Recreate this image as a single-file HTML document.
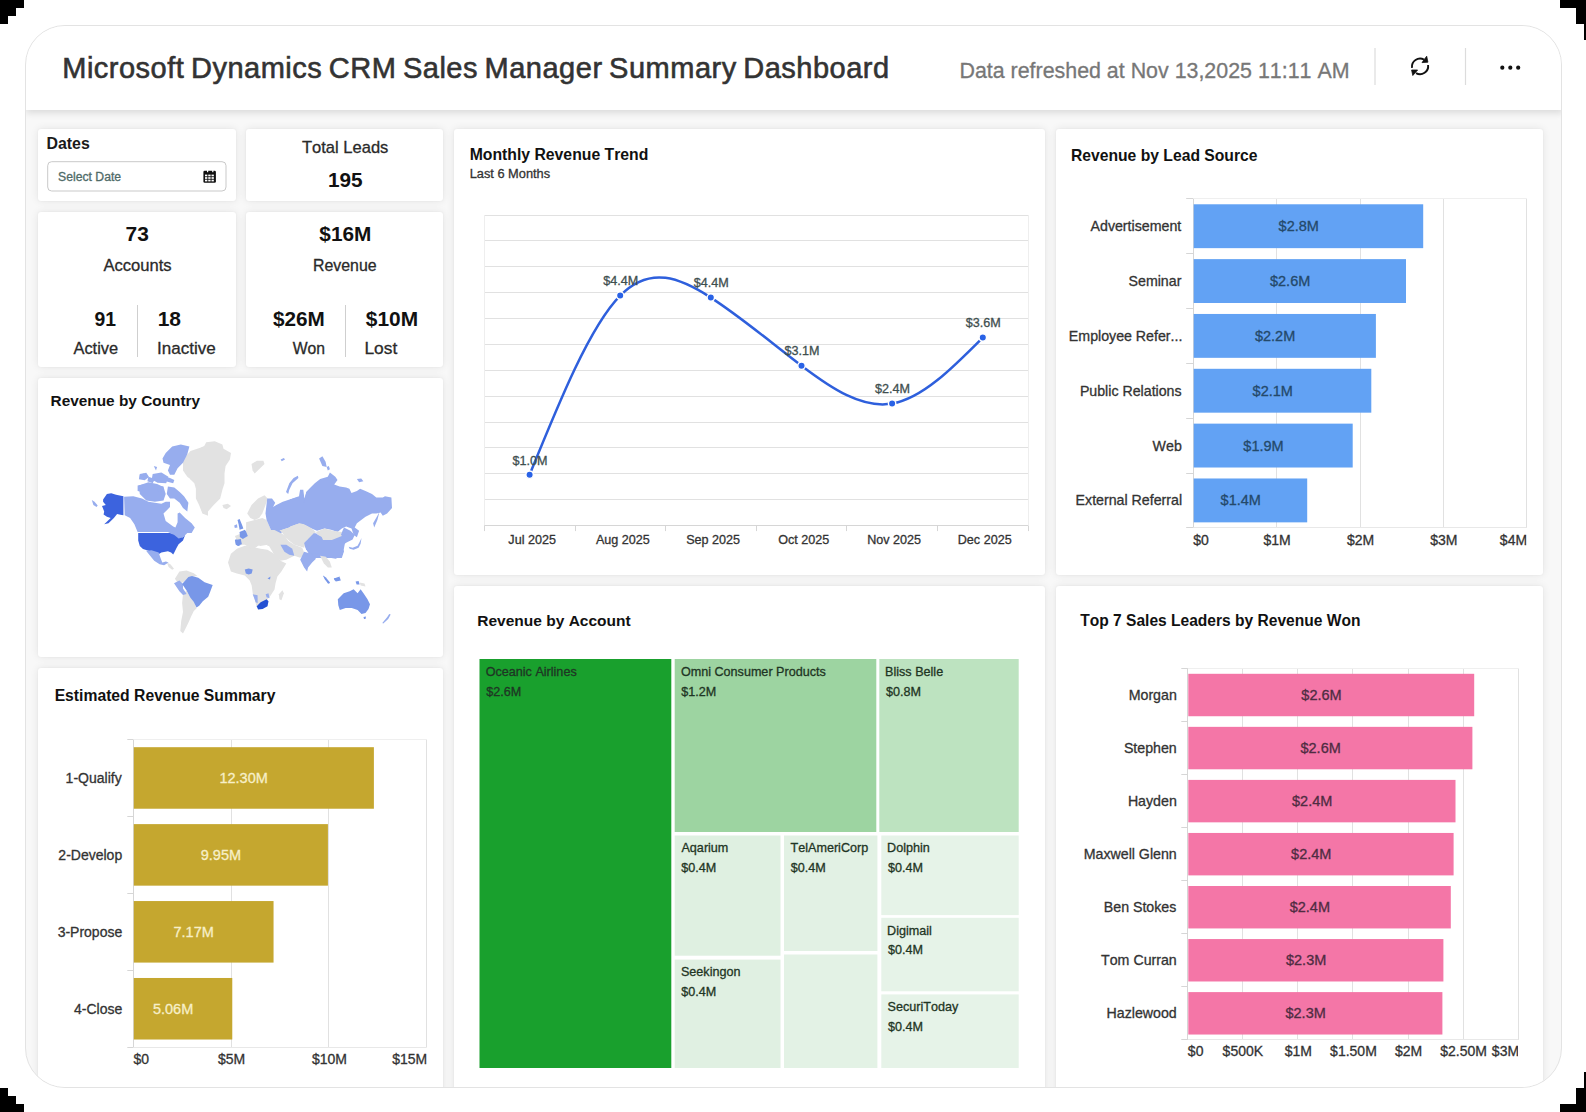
<!DOCTYPE html>
<html><head><meta charset="utf-8">
<style>
*{margin:0;padding:0;box-sizing:border-box}
html,body{width:1586px;height:1112px;overflow:hidden;background:#fff;font-family:"Liberation Sans",sans-serif}
.c{position:absolute;background:#000}
#wrap{position:absolute;left:25px;top:25px;width:1537px;height:1063px;border:1px solid #e3e3e3;border-radius:40px;overflow:hidden;background:#f8f8f8}
#hdr{position:absolute;left:0;top:0;width:1537px;height:84px;background:#fff;box-shadow:0 3px 7px rgba(0,0,0,0.12);z-index:2}
.card{position:absolute;background:#fff;border-radius:3px;box-shadow:0 0 9px rgba(0,0,0,0.085),0 0 2px rgba(0,0,0,0.05)}
svg{position:absolute;left:0;top:0;z-index:5;font-kerning:none}
</style></head><body>
<div class="c" style="left:0;top:0;width:24px;height:8px"></div>
<div class="c" style="left:0;top:8px;width:16px;height:8px"></div>
<div class="c" style="left:0;top:16px;width:8px;height:8px"></div>
<div class="c" style="left:1560px;top:0;width:26px;height:8px"></div>
<div class="c" style="left:1576px;top:8px;width:10px;height:16px"></div>
<div class="c" style="left:1584px;top:24px;width:2px;height:16px"></div>
<div class="c" style="left:0;top:1088px;width:8px;height:8px"></div>
<div class="c" style="left:0;top:1096px;width:16px;height:8px"></div>
<div class="c" style="left:0;top:1104px;width:24px;height:8px"></div>
<div class="c" style="left:1584px;top:1072px;width:2px;height:16px"></div>
<div class="c" style="left:1576px;top:1088px;width:10px;height:16px"></div>
<div class="c" style="left:1560px;top:1104px;width:26px;height:8px"></div>
<div id="wrap">
 <div id="hdr"></div>
 <div class="card" style="left:12px;top:103px;width:198px;height:72px"></div>
 <div class="card" style="left:220px;top:103px;width:197px;height:72px"></div>
 <div class="card" style="left:12px;top:186px;width:198px;height:155px"></div>
 <div class="card" style="left:220px;top:186px;width:197px;height:155px"></div>
 <div class="card" style="left:12px;top:352px;width:405px;height:279px"></div>
 <div class="card" style="left:12px;top:642px;width:405px;height:460px"></div>
 <div class="card" style="left:427.5px;top:103px;width:591.5px;height:446px"></div>
 <div class="card" style="left:1030px;top:103px;width:487px;height:446px"></div>
 <div class="card" style="left:427.5px;top:559.5px;width:591.5px;height:560px"></div>
 <div class="card" style="left:1030px;top:559.5px;width:487px;height:560px"></div>
</div>
<svg width="1586" height="1112" viewBox="0 0 1586 1112" font-family="Liberation Sans, sans-serif">
<defs>
<clipPath id="clipLS"><rect x="1000" y="520" width="526.5" height="40"/></clipPath>
<clipPath id="clipER"><rect x="0" y="1040" width="426.8" height="40"/></clipPath>
<clipPath id="clipT7"><rect x="1000" y="1040" width="518" height="40"/></clipPath>
</defs>
<polygon points="183.0,459.6 190.5,450.9 200.2,447.7 208.0,444.5 208.0,515.7 202.4,513.5 199.1,504.9 195.9,498.4 195.9,483.3 187.3,476.8 183.0,470.4" fill="#e2e2e2"/>
<polygon points="91.8,500.0 94.5,501.7 97.7,505.4 96.6,507.1 93.4,504.9" fill="#97adee"/>
<polygon points="124.1,496.8 133.3,496.3 142.0,498.4 148.4,501.7 154.9,502.7 161.4,503.8 165.7,501.7 170.0,501.7 170.0,507.1 163.5,513.5 165.7,521.1 173.2,526.5 175.4,527.6 177.6,522.2 177.6,513.5 179.7,512.5 185.1,517.9 191.6,523.2 194.8,527.6 191.6,533.0 187.3,533.0 184.0,536.2 180.8,538.4 174.3,540.5 172.2,534.0 167.9,531.9 137.6,531.9 134.4,524.3 130.1,517.9 124.7,515.2" fill="#97adee"/>
<polygon points="167.9,486.6 174.3,487.6 179.7,492.0 184.0,496.3 188.4,502.7 187.3,511.4 183.0,508.1 179.7,502.7 174.3,498.4 170.0,498.4 166.8,494.1" fill="#97adee"/>
<polygon points="165.7,453.1 172.2,446.6 180.8,444.5 189.4,446.6 187.3,454.2 183.0,462.8 177.6,468.2 174.3,474.7 170.0,474.7 167.9,470.4 170.0,465.0 163.5,462.8 162.5,458.5" fill="#97adee"/>
<polygon points="162.5,475.8 170.0,477.9 174.3,480.1 173.2,483.3 165.7,481.2 161.4,479.0" fill="#97adee"/>
<polygon points="138.7,485.5 148.4,482.2 157.1,483.9 163.5,487.1 165.7,494.1 163.5,500.6 154.9,501.7 146.3,500.6 139.8,494.1" fill="#97adee"/>
<polygon points="152.7,474.1 161.4,472.5 168.4,476.8 166.2,483.3 157.6,482.8 151.7,479.5" fill="#97adee"/>
<polygon points="139.8,474.1 146.3,472.7 149.0,477.1 144.7,480.3 138.9,479.2" fill="#97adee"/>
<polygon points="137.6,485.5 143.0,484.4 142.0,492.0 137.6,490.9" fill="#97adee"/>
<polygon points="139.8,474.7 144.1,473.6 143.0,477.9 139.8,477.9" fill="#97adee"/>
<polygon points="148.4,476.8 154.9,479.0 152.7,483.3 147.4,481.2" fill="#97adee"/>
<polygon points="157.1,485.5 163.5,486.6 162.5,492.0 158.1,490.9" fill="#97adee"/>
<polygon points="153.8,466.1 157.1,467.1 156.0,470.4" fill="#97adee"/>
<polygon points="103.1,499.5 106.9,494.1 111.2,493.2 116.1,494.7 123.4,496.3 123.4,515.2 120.4,514.8 117.1,514.1 113.9,517.9 108.5,523.2 104.2,524.3 110.7,517.9 106.9,516.8 103.6,514.6 104.2,511.4 102.0,506.0 105.8,504.9 103.1,501.7" fill="#3c63de"/>
<polygon points="138.2,533.0 170.0,533.0 174.3,535.1 178.6,538.4 183.0,537.3 185.1,535.1 183.0,540.5 178.6,544.3 176.5,548.1 174.3,552.4 173.2,554.5 171.1,552.4 167.9,551.3 161.4,552.4 158.1,554.5 154.9,552.4 148.4,550.8 143.0,549.1 139.8,545.9 138.2,540.5" fill="#3c63de"/>
<polygon points="190.0,452.0 196.5,449.9 204.0,446.6 206.2,442.3 214.8,441.2 222.4,444.5 223.5,448.8 231.0,453.1 229.9,459.6 225.6,466.1 224.5,473.6 224.5,483.3 222.4,489.8 220.2,498.4 213.7,504.9 206.2,513.5 202.9,513.5 199.7,504.9 197.6,494.1 194.3,483.3 190.0,479.0" fill="#e2e2e2"/>
<polygon points="222.4,504.9 227.8,503.8 231.0,506.0 226.7,509.2 223.5,508.1" fill="#e2e2e2"/>
<polygon points="251.5,463.9 256.9,460.7 263.4,460.7 264.5,463.9 259.1,469.3 254.7,473.6 252.6,470.4" fill="#e2e2e2"/>
<polygon points="280.6,459.6 283.9,458.0 285.0,459.6 281.7,461.2" fill="#97adee"/>
<polygon points="286.0,492.0 289.3,483.3 293.6,477.9 297.9,475.8 298.4,477.9 292.5,483.3 289.3,489.8 288.2,494.1" fill="#97adee"/>
<polygon points="247.2,513.5 251.5,504.9 258.0,498.4 264.5,495.2 267.7,498.4 265.5,504.9 262.3,513.5 259.1,517.9 254.7,520.0 250.4,517.9" fill="#e2e2e2"/>
<polygon points="246.1,522.2 254.7,520.0 262.3,517.9 266.6,520.0 270.9,529.7 275.2,537.3 273.1,541.6 267.7,544.8 260.1,545.9 254.7,543.8 248.3,544.8 245.0,537.3 246.1,528.6" fill="#e2e2e2"/>
<polygon points="267.2,498.4 272.0,498.4 275.2,502.7 273.1,507.1 276.3,504.9 282.8,501.7 292.5,498.4 299.0,496.3 300.1,489.8 303.3,489.8 304.4,498.4 306.5,492.0 310.0,488.7 310.0,526.5 297.9,523.2 289.3,527.6 282.8,529.7 280.6,535.1 278.5,539.4 274.2,535.1 270.9,529.7 266.6,520.0 265.5,513.5" fill="#97adee"/>
<polygon points="281.7,529.7 289.3,527.6 297.9,523.2 310.0,526.5 310.0,537.3 303.3,541.6 293.6,541.6 285.0,537.3" fill="#e2e2e2"/>
<polygon points="237.5,520.0 239.6,518.9 241.8,524.3 243.4,528.6 239.6,529.7 238.6,524.3" fill="#7897e8"/>
<polygon points="239.6,531.9 245.0,529.7 247.2,535.1 244.0,540.5 240.7,538.4" fill="#7897e8"/>
<polygon points="235.3,539.4 241.8,538.4 242.9,543.8 238.6,545.9 235.9,544.8" fill="#7897e8"/>
<polygon points="234.2,525.4 236.9,524.3 237.5,527.6 234.8,528.1" fill="#97adee"/>
<polygon points="265.5,541.6 276.3,540.5 278.5,544.8 267.7,545.9" fill="#e2e2e2"/>
<polygon points="290.0,499.5 296.5,497.4 300.8,498.4 304.0,502.7 306.2,492.0 310.5,487.6 314.8,483.3 320.2,479.0 327.8,476.8 329.9,472.5 335.3,476.8 337.5,480.1 334.2,484.4 339.6,486.6 346.1,487.6 349.4,488.7 351.5,493.0 356.9,490.9 360.1,488.7 365.5,490.9 372.0,494.1 376.3,497.4 382.8,497.4 385.0,496.3 391.4,497.4 392.0,508.1 387.1,513.5 382.8,515.7 380.6,512.5 376.3,513.5 372.0,513.5 365.5,516.8 356.9,523.2 354.7,527.6 359.1,530.8 356.9,537.3 353.7,535.1 351.5,528.6 346.1,526.5 341.8,528.6 337.5,531.9 331.0,529.7 324.5,528.6 317.0,530.8 311.6,528.6 304.0,524.3 299.7,523.2 290.0,526.5" fill="#97adee"/>
<polygon points="356.9,479.0 361.2,478.5 363.4,481.2 359.1,482.2" fill="#97adee"/>
<polygon points="319.1,458.5 322.4,456.3 325.6,461.7 326.7,467.1 322.4,466.1" fill="#97adee"/>
<polygon points="326.7,467.1 328.8,466.1 329.9,469.3 327.8,470.4" fill="#97adee"/>
<polygon points="373.1,523.2 377.4,515.7 379.6,511.4 377.4,520.0 374.2,527.6" fill="#97adee"/>
<polygon points="290.0,526.5 299.7,523.2 304.0,524.3 311.6,528.6 315.9,531.9 311.6,537.3 304.0,541.6 296.5,541.6 290.0,539.4" fill="#e2e2e2"/>
<polygon points="315.9,531.9 324.5,528.6 333.2,530.8 341.8,531.9 344.0,527.6 340.7,535.1 335.3,539.4 325.6,539.4 319.1,536.2" fill="#e2e2e2"/>
<polygon points="304.0,543.8 311.6,537.3 315.9,533.0 320.2,537.3 325.6,540.5 335.3,539.4 340.7,535.1 344.0,527.6 350.4,530.8 354.7,535.1 352.6,539.4 346.1,542.7 341.8,545.9 344.0,551.3 341.8,558.0 311.6,558.0 307.3,551.3" fill="#97adee"/>
<polygon points="146.1,550.8 151.5,550.3 158.7,552.6 160.5,558.0 162.3,562.5 165.9,561.6 168.6,562.5 164.1,565.2 159.6,564.3 154.2,560.7 149.7,555.3" fill="#97adee"/>
<polygon points="166.8,562.5 170.4,564.3 174.0,568.8 172.2,569.7 168.6,567.0" fill="#e2e2e2"/>
<polygon points="174.9,578.7 179.4,571.5 186.6,570.6 193.8,573.3 197.4,576.0 190.2,576.9 183.0,582.3 178.5,584.1" fill="#e2e2e2"/>
<polygon points="183.0,594.0 186.6,590.4 190.2,597.6 194.7,603.0 196.5,608.4 193.8,611.1 191.1,616.5 188.4,622.8 184.8,630.0 183.0,633.6 180.3,630.9 181.2,621.0 183.0,612.0 182.1,603.0" fill="#e2e2e2"/>
<polygon points="174.0,583.2 179.4,580.5 183.0,584.1 183.0,588.6 186.6,594.0 183.0,594.9 179.4,591.3" fill="#97adee"/>
<polygon points="182.1,584.1 188.4,576.9 192.0,576.0 198.3,577.8 204.6,582.3 212.7,585.0 210.0,592.2 208.2,596.7 202.8,601.2 199.2,605.7 196.5,607.5 193.8,602.1 190.2,597.6 186.6,590.4" fill="#7897e8"/>
<polygon points="228.0,562.6 230.9,553.7 236.9,548.8 244.8,545.8 252.7,546.8 260.6,548.8 267.5,549.8 272.5,552.8 276.4,555.7 280.4,560.7 286.3,563.6 281.4,571.6 277.4,576.5 275.5,583.4 274.5,589.4 269.5,597.3 266.6,600.2 257.6,605.2 256.7,607.2 254.7,599.3 252.7,593.3 251.7,585.4 249.7,580.5 244.8,575.5 236.9,573.5 230.9,571.6" fill="#e2e2e2"/>
<polygon points="234.9,535.9 249.7,530.0 274.5,530.0 284.4,534.9 288.3,540.9 280.4,544.8 272.5,543.9 266.6,542.9 259.6,544.8 252.7,549.8 244.8,544.8 238.9,544.8" fill="#e2e2e2"/>
<polygon points="266.6,541.9 280.4,540.9 288.3,540.9 294.3,544.8 302.2,547.8 305.1,554.7 300.2,557.7 294.3,555.7 286.3,559.7 280.4,560.7 274.5,555.7 272.5,551.8" fill="#e2e2e2"/>
<polygon points="279.4,530.0 314.0,530.0 307.1,539.9 304.1,547.8 294.3,544.8 288.3,539.9 284.4,534.9" fill="#e2e2e2"/>
<polygon points="244.8,569.6 248.7,568.6 252.7,569.6 251.7,573.5 248.7,574.5 245.8,573.5" fill="#7897e8"/>
<polygon points="267.5,578.5 270.5,576.5 270.0,579.5" fill="#7897e8"/>
<polygon points="252.7,594.3 257.6,595.3 257.6,603.2 255.7,602.2" fill="#97adee"/>
<polygon points="265.6,594.3 268.5,593.3 269.5,598.3 266.6,597.3" fill="#97adee"/>
<polygon points="256.7,606.2 260.6,602.2 266.6,599.3 268.5,601.2 267.5,606.2 262.6,609.1 258.1,609.6" fill="#2451d3"/>
<polygon points="278.9,594.3 282.4,590.3 283.9,593.3 281.4,600.2 279.4,599.3" fill="#e2e2e2"/>
<polygon points="234.9,539.9 240.8,538.9 241.8,543.9 237.9,545.8 235.9,544.8" fill="#7897e8"/>
<polygon points="239.8,532.0 245.8,531.0 247.8,535.9 242.8,538.9 239.8,536.9" fill="#7897e8"/>
<polygon points="280.4,544.8 286.3,544.8 292.3,548.8 294.3,555.7 289.3,554.7 284.4,551.8" fill="#97adee"/>
<polygon points="304.1,542.9 314.0,533.0 323.9,537.9 345.0,534.0 345.0,542.9 342.7,554.7 335.8,558.7 323.9,556.7 319.0,553.7 311.1,553.7 306.1,549.8" fill="#97adee"/>
<polygon points="300.2,559.7 304.1,551.8 311.1,553.7 316.0,558.7 312.1,562.6 308.1,567.6 307.1,571.6 304.1,567.6" fill="#97adee"/>
<polygon points="320.0,555.7 325.9,556.7 329.9,561.7 331.8,567.6 327.9,567.6 323.9,563.6" fill="#e2e2e2"/>
<polygon points="322.9,575.5 329.9,582.4 327.9,583.4" fill="#7897e8"/>
<polygon points="333.8,578.5 339.8,576.5 338.8,580.5 334.8,580.5" fill="#7897e8"/>
<polygon points="320.0,533.0 339.8,532.0 341.8,535.9 331.9,539.9 323.0,539.9" fill="#e2e2e2"/>
<polygon points="337.8,599.2 343.7,593.3 349.7,591.3 353.6,589.3 357.6,593.3 360.6,589.3 363.5,593.3 367.5,599.2 370.0,604.2 368.5,609.1 365.5,613.1 361.5,614.1 357.6,610.1 351.7,608.1 345.7,608.1 339.8,610.1 338.3,605.2" fill="#7897e8"/>
<polygon points="363.5,617.0 366.0,616.5 365.5,619.0 364.0,619.0" fill="#7897e8"/>
<polygon points="382.3,623.0 387.3,617.0 389.2,614.1 390.7,614.6 388.2,619.0 383.3,623.5" fill="#97adee"/>
<polygon points="348.7,546.8 352.6,547.8 357.6,545.8 359.6,541.9 361.5,537.9 360.6,543.8 358.6,547.8 353.6,549.8 349.7,548.8" fill="#97adee"/>
<polygon points="323.0,575.5 325.9,577.5 329.9,582.4 328.9,583.9 324.9,579.5" fill="#7897e8"/>
<polygon points="333.8,578.5 339.8,577.5 340.8,580.4 335.8,581.4" fill="#7897e8"/>
<polygon points="355.6,581.4 358.6,580.9 359.6,584.4 356.6,584.4" fill="#7897e8"/>
<polygon points="359.6,582.4 364.5,583.4 365.5,586.4 360.6,585.4" fill="#e2e2e2"/>
<text x="62.22" y="78.0" font-size="29" fill="#333" stroke="#333" stroke-width="0.6" letter-spacing="0.5" word-spacing="-1.97">Microsoft Dynamics CRM Sales Manager Summary Dashboard</text>
<text x="959.44" y="78.10" font-size="21.40" stroke="#777" stroke-width="0.3" fill="#777">Data refreshed at Nov 13,2025 11:11 AM</text>
<line x1="1375.00" y1="48.00" x2="1375.00" y2="85.00" stroke="#dcdcdc" stroke-width="1.2"/>
<line x1="1465.50" y1="48.00" x2="1465.50" y2="85.00" stroke="#dcdcdc" stroke-width="1.2"/>
<g fill="none" stroke="#111" stroke-width="1.9"><path d="M1412.0,67.8 A8.2,8.2 0 0 1 1424.0,59.6"/><path d="M1428.1,65.0 A8.2,8.2 0 0 1 1416.0,73.2"/></g><g fill="#111" stroke="#111" stroke-width="0.8" stroke-linejoin="round"><polygon points="1422.0,62.6 1427.9,62.2 1426.7,56.2"/><polygon points="1411.6,70.0 1417.6,70.0 1412.8,75.5"/></g>
<circle cx="1502.3" cy="67.7" r="2.1" fill="#111"/>
<circle cx="1510.3" cy="67.7" r="2.1" fill="#111"/>
<circle cx="1518.2" cy="67.7" r="2.1" fill="#111"/>
<text x="46.44" y="149.20" font-size="15.90" font-weight="bold" fill="#1a1a1a">Dates</text>
<rect x="47.7" y="161.7" width="178.3" height="29.3" rx="4" fill="#fff" stroke="#c9c9c9" stroke-width="1"/>
<text x="58.05" y="180.70" font-size="12.21" stroke="#4f6b68" stroke-width="0.3" fill="#4f6b68">Select Date</text>
<g><rect x="203.4" y="170.8" width="12.5" height="12" rx="1.3" fill="#111"/><rect x="207.0" y="170.0" width="1.2" height="2.2" fill="#fff"/><rect x="212.2" y="170.0" width="1.2" height="2.2" fill="#fff"/><rect x="205.00" y="174.60" width="2.35" height="1.7" fill="#fff"/><rect x="208.25" y="174.60" width="2.35" height="1.7" fill="#fff"/><rect x="211.50" y="174.60" width="2.35" height="1.7" fill="#fff"/><rect x="205.00" y="177.15" width="2.35" height="1.7" fill="#fff"/><rect x="208.25" y="177.15" width="2.35" height="1.7" fill="#fff"/><rect x="211.50" y="177.15" width="2.35" height="1.7" fill="#fff"/><rect x="205.00" y="179.70" width="2.35" height="1.7" fill="#fff"/><rect x="208.25" y="179.70" width="2.35" height="1.7" fill="#fff"/><rect x="211.50" y="179.70" width="2.35" height="1.7" fill="#fff"/></g>
<text x="301.98" y="153.20" font-size="16.55" stroke="#2a2a2a" stroke-width="0.3" fill="#2a2a2a">Total Leads</text>
<text x="327.89" y="186.80" font-size="20.79" font-weight="bold" fill="#111">195</text>
<text x="125.60" y="240.60" font-size="20.91" font-weight="bold" fill="#111">73</text>
<text x="103.47" y="270.50" font-size="16.59" stroke="#2a2a2a" stroke-width="0.3" fill="#2a2a2a">Accounts</text>
<text x="94.43" y="325.60" font-size="19.34" font-weight="bold" fill="#111">91</text>
<text x="73.47" y="353.50" font-size="16.40" stroke="#2a2a2a" stroke-width="0.3" fill="#2a2a2a">Active</text>
<text x="157.68" y="325.60" font-size="21.01" font-weight="bold" fill="#111">18</text>
<text x="157.03" y="353.50" font-size="17.04" stroke="#2a2a2a" stroke-width="0.3" fill="#2a2a2a">Inactive</text>
<line x1="137.50" y1="305.00" x2="137.50" y2="357.00" stroke="#cfcfcf" stroke-width="1"/>
<text x="319.33" y="240.60" font-size="20.81" font-weight="bold" fill="#111">$16M</text>
<text x="313.00" y="270.50" font-size="15.89" stroke="#2a2a2a" stroke-width="0.3" fill="#2a2a2a">Revenue</text>
<text x="272.93" y="325.60" font-size="20.73" font-weight="bold" fill="#111">$26M</text>
<text x="292.63" y="353.50" font-size="15.75" stroke="#2a2a2a" stroke-width="0.3" fill="#2a2a2a">Won</text>
<text x="365.82" y="325.60" font-size="20.90" font-weight="bold" fill="#111">$10M</text>
<text x="364.47" y="353.50" font-size="17.38" stroke="#2a2a2a" stroke-width="0.3" fill="#2a2a2a">Lost</text>
<line x1="345.50" y1="305.00" x2="345.50" y2="357.00" stroke="#cfcfcf" stroke-width="1"/>
<text x="50.57" y="405.90" font-size="15.38" font-weight="bold" fill="#111">Revenue by Country</text>
<text x="54.65" y="700.80" font-size="15.71" font-weight="bold" fill="#111">Estimated Revenue Summary</text>
<text x="469.65" y="160.40" font-size="15.77" font-weight="bold" fill="#111">Monthly Revenue Trend</text>
<text x="469.65" y="177.80" font-size="12.82" stroke="#333" stroke-width="0.3" fill="#333">Last 6 Months</text>
<text x="1070.95" y="161.00" font-size="15.69" font-weight="bold" fill="#111">Revenue by Lead Source</text>
<text x="477.26" y="625.80" font-size="15.53" font-weight="bold" fill="#111">Revenue by Account</text>
<text x="1080.23" y="625.80" font-size="15.57" font-weight="bold" fill="#111">Top 7 Sales Leaders by Revenue Won</text>
<line x1="484.40" y1="215.50" x2="1028.00" y2="215.50" stroke="#e1e1e1" stroke-width="1"/>
<line x1="484.40" y1="240.50" x2="1028.00" y2="240.50" stroke="#e1e1e1" stroke-width="1"/>
<line x1="484.40" y1="266.50" x2="1028.00" y2="266.50" stroke="#e1e1e1" stroke-width="1"/>
<line x1="484.40" y1="292.50" x2="1028.00" y2="292.50" stroke="#e1e1e1" stroke-width="1"/>
<line x1="484.40" y1="318.50" x2="1028.00" y2="318.50" stroke="#e1e1e1" stroke-width="1"/>
<line x1="484.40" y1="344.50" x2="1028.00" y2="344.50" stroke="#e1e1e1" stroke-width="1"/>
<line x1="484.40" y1="370.50" x2="1028.00" y2="370.50" stroke="#e1e1e1" stroke-width="1"/>
<line x1="484.40" y1="396.50" x2="1028.00" y2="396.50" stroke="#e1e1e1" stroke-width="1"/>
<line x1="484.40" y1="422.50" x2="1028.00" y2="422.50" stroke="#e1e1e1" stroke-width="1"/>
<line x1="484.40" y1="447.50" x2="1028.00" y2="447.50" stroke="#e1e1e1" stroke-width="1"/>
<line x1="484.40" y1="473.50" x2="1028.00" y2="473.50" stroke="#e1e1e1" stroke-width="1"/>
<line x1="484.40" y1="499.50" x2="1028.00" y2="499.50" stroke="#e1e1e1" stroke-width="1"/>
<line x1="484.50" y1="215.00" x2="484.50" y2="525.60" stroke="#eeeeee" stroke-width="1"/>
<line x1="1028.50" y1="215.00" x2="1028.50" y2="525.60" stroke="#eeeeee" stroke-width="1"/>
<line x1="484.40" y1="525.50" x2="1028.00" y2="525.50" stroke="#d6d6d6" stroke-width="1"/>
<line x1="484.50" y1="525.60" x2="484.50" y2="531.10" stroke="#d6d6d6" stroke-width="1"/>
<line x1="575.50" y1="525.60" x2="575.50" y2="531.10" stroke="#d6d6d6" stroke-width="1"/>
<line x1="665.50" y1="525.60" x2="665.50" y2="531.10" stroke="#d6d6d6" stroke-width="1"/>
<line x1="756.50" y1="525.60" x2="756.50" y2="531.10" stroke="#d6d6d6" stroke-width="1"/>
<line x1="846.50" y1="525.60" x2="846.50" y2="531.10" stroke="#d6d6d6" stroke-width="1"/>
<line x1="937.50" y1="525.60" x2="937.50" y2="531.10" stroke="#d6d6d6" stroke-width="1"/>
<line x1="1028.50" y1="525.60" x2="1028.50" y2="531.10" stroke="#d6d6d6" stroke-width="1"/>
<text x="508.35" y="543.60" font-size="12.60" stroke="#333" stroke-width="0.3" fill="#333">Jul 2025</text>
<text x="595.88" y="543.60" font-size="12.60" stroke="#333" stroke-width="0.3" fill="#333">Aug 2025</text>
<text x="686.20" y="543.60" font-size="12.60" stroke="#333" stroke-width="0.3" fill="#333">Sep 2025</text>
<text x="778.20" y="543.60" font-size="12.60" stroke="#333" stroke-width="0.3" fill="#333">Oct 2025</text>
<text x="867.18" y="543.60" font-size="12.60" stroke="#333" stroke-width="0.3" fill="#333">Nov 2025</text>
<text x="957.78" y="543.60" font-size="12.60" stroke="#333" stroke-width="0.3" fill="#333">Dec 2025</text>
<path d="M529.60,474.70 C559.80,400.43 590.00,326.16 620.20,295.60 C650.40,265.04 680.60,278.18 710.80,297.60 C741.03,317.04 771.27,342.77 801.50,365.70 C831.70,388.61 861.90,408.73 892.10,403.60 C922.33,398.47 952.57,368.03 982.80,337.60" fill="none" stroke="#2e5fdc" stroke-width="2.5"/>
<circle cx="529.6" cy="474.7" r="3.7" fill="#2962e6" stroke="#fff" stroke-width="1.4"/>
<circle cx="620.2" cy="295.6" r="3.7" fill="#2962e6" stroke="#fff" stroke-width="1.4"/>
<circle cx="710.8" cy="297.6" r="3.7" fill="#2962e6" stroke="#fff" stroke-width="1.4"/>
<circle cx="801.5" cy="365.7" r="3.7" fill="#2962e6" stroke="#fff" stroke-width="1.4"/>
<circle cx="892.1" cy="403.6" r="3.7" fill="#2962e6" stroke="#fff" stroke-width="1.4"/>
<circle cx="982.8" cy="337.6" r="3.7" fill="#2962e6" stroke="#fff" stroke-width="1.4"/>
<text x="512.54" y="465.20" font-size="12.60" stroke="#3f4f4f" stroke-width="0.3" fill="#3f4f4f">$1.0M</text>
<text x="603.14" y="285.30" font-size="12.60" stroke="#3f4f4f" stroke-width="0.3" fill="#3f4f4f">$4.4M</text>
<text x="693.74" y="286.70" font-size="12.60" stroke="#3f4f4f" stroke-width="0.3" fill="#3f4f4f">$4.4M</text>
<text x="784.44" y="354.70" font-size="12.60" stroke="#3f4f4f" stroke-width="0.3" fill="#3f4f4f">$3.1M</text>
<text x="875.04" y="393.00" font-size="12.60" stroke="#3f4f4f" stroke-width="0.3" fill="#3f4f4f">$2.4M</text>
<text x="965.74" y="326.80" font-size="12.60" stroke="#3f4f4f" stroke-width="0.3" fill="#3f4f4f">$3.6M</text>
<line x1="1193.50" y1="198.80" x2="1193.50" y2="527.84" stroke="#d6d6d6" stroke-width="1"/>
<line x1="1276.50" y1="198.80" x2="1276.50" y2="527.84" stroke="#e1e1e1" stroke-width="1"/>
<line x1="1360.50" y1="198.80" x2="1360.50" y2="527.84" stroke="#e1e1e1" stroke-width="1"/>
<line x1="1443.50" y1="198.80" x2="1443.50" y2="527.84" stroke="#e1e1e1" stroke-width="1"/>
<line x1="1526.50" y1="198.80" x2="1526.50" y2="527.84" stroke="#e1e1e1" stroke-width="1"/>
<line x1="1193.20" y1="198.50" x2="1526.80" y2="198.50" stroke="#efefef" stroke-width="1"/>
<line x1="1193.20" y1="527.50" x2="1526.80" y2="527.50" stroke="#e8e8e8" stroke-width="1"/>
<line x1="1186.20" y1="198.50" x2="1193.20" y2="198.50" stroke="#d6d6d6" stroke-width="1"/>
<line x1="1186.20" y1="253.50" x2="1193.20" y2="253.50" stroke="#d6d6d6" stroke-width="1"/>
<line x1="1186.20" y1="308.50" x2="1193.20" y2="308.50" stroke="#d6d6d6" stroke-width="1"/>
<line x1="1186.20" y1="363.50" x2="1193.20" y2="363.50" stroke="#d6d6d6" stroke-width="1"/>
<line x1="1186.20" y1="418.50" x2="1193.20" y2="418.50" stroke="#d6d6d6" stroke-width="1"/>
<line x1="1186.20" y1="473.50" x2="1193.20" y2="473.50" stroke="#d6d6d6" stroke-width="1"/>
<line x1="1186.20" y1="527.50" x2="1193.20" y2="527.50" stroke="#d6d6d6" stroke-width="1"/>
<rect x="1193.70" y="204.28" width="229.50" height="43.87" fill="#62a2f4"/>
<text x="1090.54" y="231.22" font-size="14.20" stroke="#333" stroke-width="0.3" fill="#333">Advertisement</text>
<text x="1278.57" y="231.22" font-size="14.50" stroke="#24496a" stroke-width="0.3" fill="#24496a">$2.8M</text>
<rect x="1193.70" y="259.12" width="212.30" height="43.87" fill="#62a2f4"/>
<text x="1128.56" y="286.06" font-size="14.20" stroke="#333" stroke-width="0.3" fill="#333">Seminar</text>
<text x="1269.97" y="286.06" font-size="14.50" stroke="#24496a" stroke-width="0.3" fill="#24496a">$2.6M</text>
<rect x="1193.70" y="313.96" width="182.20" height="43.87" fill="#62a2f4"/>
<text x="1068.85" y="340.90" font-size="14.20" stroke="#333" stroke-width="0.3" fill="#333">Employee Refer...</text>
<text x="1254.92" y="340.90" font-size="14.50" stroke="#24496a" stroke-width="0.3" fill="#24496a">$2.2M</text>
<rect x="1193.70" y="368.80" width="177.60" height="43.87" fill="#62a2f4"/>
<text x="1079.89" y="395.74" font-size="14.20" stroke="#333" stroke-width="0.3" fill="#333">Public Relations</text>
<text x="1252.62" y="395.74" font-size="14.50" stroke="#24496a" stroke-width="0.3" fill="#24496a">$2.1M</text>
<rect x="1193.70" y="423.64" width="159.00" height="43.87" fill="#62a2f4"/>
<text x="1152.60" y="450.58" font-size="14.20" stroke="#333" stroke-width="0.3" fill="#333">Web</text>
<text x="1243.32" y="450.58" font-size="14.50" stroke="#24496a" stroke-width="0.3" fill="#24496a">$1.9M</text>
<rect x="1193.70" y="478.48" width="113.50" height="43.87" fill="#62a2f4"/>
<text x="1075.61" y="505.42" font-size="14.20" stroke="#333" stroke-width="0.3" fill="#333">External Referral</text>
<text x="1220.57" y="505.42" font-size="14.50" stroke="#24496a" stroke-width="0.3" fill="#24496a">$1.4M</text>
<text x="1193.25" y="544.90" font-size="14.00" stroke="#333" stroke-width="0.3" fill="#333">$0</text>
<text x="1263.48" y="544.90" font-size="14.00" stroke="#333" stroke-width="0.3" fill="#333">$1M</text>
<text x="1346.88" y="544.90" font-size="14.00" stroke="#333" stroke-width="0.3" fill="#333">$2M</text>
<text x="1430.28" y="544.90" font-size="14.00" stroke="#333" stroke-width="0.3" fill="#333">$3M</text>
<text x="1499.85" y="544.90" font-size="14.00" stroke="#333" stroke-width="0.3" fill="#333" clip-path="url(#clipLS)">$4M</text>
<line x1="133.50" y1="739.50" x2="133.50" y2="1047.22" stroke="#d6d6d6" stroke-width="1"/>
<line x1="231.50" y1="739.50" x2="231.50" y2="1047.22" stroke="#e1e1e1" stroke-width="1"/>
<line x1="328.50" y1="739.50" x2="328.50" y2="1047.22" stroke="#e1e1e1" stroke-width="1"/>
<line x1="426.50" y1="739.50" x2="426.50" y2="1047.22" stroke="#e1e1e1" stroke-width="1"/>
<line x1="133.30" y1="739.50" x2="426.70" y2="739.50" stroke="#efefef" stroke-width="1"/>
<line x1="133.30" y1="1047.50" x2="426.70" y2="1047.50" stroke="#e8e8e8" stroke-width="1"/>
<line x1="127.30" y1="739.50" x2="133.30" y2="739.50" stroke="#d6d6d6" stroke-width="1"/>
<line x1="127.30" y1="816.50" x2="133.30" y2="816.50" stroke="#d6d6d6" stroke-width="1"/>
<line x1="127.30" y1="893.50" x2="133.30" y2="893.50" stroke="#d6d6d6" stroke-width="1"/>
<line x1="127.30" y1="970.50" x2="133.30" y2="970.50" stroke="#d6d6d6" stroke-width="1"/>
<line x1="127.30" y1="1047.50" x2="133.30" y2="1047.50" stroke="#d6d6d6" stroke-width="1"/>
<rect x="133.80" y="747.19" width="240.09" height="61.54" fill="#c5a72f"/>
<text x="65.61" y="782.96" font-size="14.00" stroke="#333" stroke-width="0.3" fill="#333">1-Qualify</text>
<text x="219.45" y="782.96" font-size="14.50" stroke="#f7efc8" stroke-width="0.3" fill="#f7efc8">12.30M</text>
<rect x="133.80" y="824.12" width="194.12" height="61.54" fill="#c5a72f"/>
<text x="58.37" y="859.89" font-size="14.00" stroke="#333" stroke-width="0.3" fill="#333">2-Develop</text>
<text x="200.72" y="859.89" font-size="14.50" stroke="#f7efc8" stroke-width="0.3" fill="#f7efc8">9.95M</text>
<rect x="133.80" y="901.05" width="139.75" height="61.54" fill="#c5a72f"/>
<text x="57.63" y="936.83" font-size="14.00" stroke="#333" stroke-width="0.3" fill="#333">3-Propose</text>
<text x="173.50" y="936.83" font-size="14.50" stroke="#f7efc8" stroke-width="0.3" fill="#f7efc8">7.17M</text>
<rect x="133.80" y="977.98" width="98.47" height="61.54" fill="#c5a72f"/>
<text x="73.98" y="1013.75" font-size="14.00" stroke="#333" stroke-width="0.3" fill="#333">4-Close</text>
<text x="152.94" y="1013.75" font-size="14.50" stroke="#f7efc8" stroke-width="0.3" fill="#f7efc8">5.06M</text>
<text x="133.55" y="1063.90" font-size="14.00" stroke="#333" stroke-width="0.3" fill="#333">$0</text>
<text x="217.98" y="1063.90" font-size="14.00" stroke="#333" stroke-width="0.3" fill="#333">$5M</text>
<text x="311.89" y="1063.90" font-size="14.00" stroke="#333" stroke-width="0.3" fill="#333">$10M</text>
<text x="392.25" y="1063.90" font-size="14.00" stroke="#333" stroke-width="0.3" fill="#333" clip-path="url(#clipER)">$15M</text>
<line x1="1187.50" y1="668.50" x2="1187.50" y2="1039.85" stroke="#d6d6d6" stroke-width="1"/>
<line x1="1242.50" y1="668.50" x2="1242.50" y2="1039.85" stroke="#e1e1e1" stroke-width="1"/>
<line x1="1297.50" y1="668.50" x2="1297.50" y2="1039.85" stroke="#e1e1e1" stroke-width="1"/>
<line x1="1352.50" y1="668.50" x2="1352.50" y2="1039.85" stroke="#e1e1e1" stroke-width="1"/>
<line x1="1408.50" y1="668.50" x2="1408.50" y2="1039.85" stroke="#e1e1e1" stroke-width="1"/>
<line x1="1463.50" y1="668.50" x2="1463.50" y2="1039.85" stroke="#e1e1e1" stroke-width="1"/>
<line x1="1518.50" y1="668.50" x2="1518.50" y2="1039.85" stroke="#e1e1e1" stroke-width="1"/>
<line x1="1187.80" y1="668.50" x2="1518.10" y2="668.50" stroke="#efefef" stroke-width="1"/>
<line x1="1187.80" y1="1039.50" x2="1518.10" y2="1039.50" stroke="#e8e8e8" stroke-width="1"/>
<line x1="1181.30" y1="668.50" x2="1187.80" y2="668.50" stroke="#d6d6d6" stroke-width="1"/>
<line x1="1181.30" y1="721.50" x2="1187.80" y2="721.50" stroke="#d6d6d6" stroke-width="1"/>
<line x1="1181.30" y1="774.50" x2="1187.80" y2="774.50" stroke="#d6d6d6" stroke-width="1"/>
<line x1="1181.30" y1="827.50" x2="1187.80" y2="827.50" stroke="#d6d6d6" stroke-width="1"/>
<line x1="1181.30" y1="880.50" x2="1187.80" y2="880.50" stroke="#d6d6d6" stroke-width="1"/>
<line x1="1181.30" y1="933.50" x2="1187.80" y2="933.50" stroke="#d6d6d6" stroke-width="1"/>
<line x1="1181.30" y1="986.50" x2="1187.80" y2="986.50" stroke="#d6d6d6" stroke-width="1"/>
<line x1="1181.30" y1="1039.50" x2="1187.80" y2="1039.50" stroke="#d6d6d6" stroke-width="1"/>
<rect x="1188.30" y="673.80" width="285.90" height="42.44" fill="#f476a7"/>
<text x="1128.68" y="700.02" font-size="14.20" stroke="#333" stroke-width="0.3" fill="#333">Morgan</text>
<text x="1301.37" y="700.02" font-size="14.50" stroke="#4f2c42" stroke-width="0.3" fill="#4f2c42">$2.6M</text>
<rect x="1188.30" y="726.85" width="284.10" height="42.44" fill="#f476a7"/>
<text x="1123.92" y="753.07" font-size="14.20" stroke="#333" stroke-width="0.3" fill="#333">Stephen</text>
<text x="1300.47" y="753.07" font-size="14.50" stroke="#4f2c42" stroke-width="0.3" fill="#4f2c42">$2.6M</text>
<rect x="1188.30" y="779.90" width="267.20" height="42.44" fill="#f476a7"/>
<text x="1127.88" y="806.12" font-size="14.20" stroke="#333" stroke-width="0.3" fill="#333">Hayden</text>
<text x="1292.02" y="806.12" font-size="14.50" stroke="#4f2c42" stroke-width="0.3" fill="#4f2c42">$2.4M</text>
<rect x="1188.30" y="832.95" width="265.30" height="42.44" fill="#f476a7"/>
<text x="1083.70" y="859.17" font-size="14.20" stroke="#333" stroke-width="0.3" fill="#333">Maxwell Glenn</text>
<text x="1291.07" y="859.17" font-size="14.50" stroke="#4f2c42" stroke-width="0.3" fill="#4f2c42">$2.4M</text>
<rect x="1188.30" y="886.00" width="262.50" height="42.44" fill="#f476a7"/>
<text x="1103.79" y="912.22" font-size="14.20" stroke="#333" stroke-width="0.3" fill="#333">Ben Stokes</text>
<text x="1289.67" y="912.22" font-size="14.50" stroke="#4f2c42" stroke-width="0.3" fill="#4f2c42">$2.4M</text>
<rect x="1188.30" y="939.05" width="255.10" height="42.44" fill="#f476a7"/>
<text x="1101.07" y="965.27" font-size="14.20" stroke="#333" stroke-width="0.3" fill="#333">Tom Curran</text>
<text x="1285.97" y="965.27" font-size="14.50" stroke="#4f2c42" stroke-width="0.3" fill="#4f2c42">$2.3M</text>
<rect x="1188.30" y="992.10" width="254.10" height="42.44" fill="#f476a7"/>
<text x="1106.56" y="1018.32" font-size="14.20" stroke="#333" stroke-width="0.3" fill="#333">Hazlewood</text>
<text x="1285.47" y="1018.32" font-size="14.50" stroke="#4f2c42" stroke-width="0.3" fill="#4f2c42">$2.3M</text>
<text x="1187.85" y="1056.00" font-size="14.00" stroke="#333" stroke-width="0.3" fill="#333">$0</text>
<text x="1222.61" y="1056.00" font-size="14.00" stroke="#333" stroke-width="0.3" fill="#333">$500K</text>
<text x="1284.78" y="1056.00" font-size="14.00" stroke="#333" stroke-width="0.3" fill="#333">$1M</text>
<text x="1330.10" y="1056.00" font-size="14.00" stroke="#333" stroke-width="0.3" fill="#333">$1.50M</text>
<text x="1394.88" y="1056.00" font-size="14.00" stroke="#333" stroke-width="0.3" fill="#333">$2M</text>
<text x="1440.20" y="1056.00" font-size="14.00" stroke="#333" stroke-width="0.3" fill="#333">$2.50M</text>
<text x="1491.85" y="1056.00" font-size="14.00" stroke="#333" stroke-width="0.3" fill="#333" clip-path="url(#clipT7)">$3M</text>
<rect x="479.50" y="659.00" width="191.80" height="409.00" fill="#19a02d"/>
<rect x="674.70" y="659.00" width="201.60" height="173.00" fill="#9dd4a1"/>
<rect x="879.30" y="659.00" width="139.40" height="173.00" fill="#bde3c0"/>
<rect x="674.70" y="835.50" width="105.80" height="120.20" fill="#dff0e1"/>
<rect x="674.70" y="959.60" width="105.80" height="108.40" fill="#e0f0e2"/>
<rect x="784.00" y="835.50" width="93.40" height="115.50" fill="#e2f1e4"/>
<rect x="784.00" y="954.50" width="93.40" height="113.50" fill="#e3f2e5"/>
<rect x="881.30" y="835.50" width="137.40" height="79.60" fill="#e6f3e8"/>
<rect x="881.30" y="917.80" width="137.40" height="73.50" fill="#e6f3e8"/>
<rect x="881.30" y="994.40" width="137.40" height="73.60" fill="#e6f3e8"/>
<text x="485.70" y="675.80" font-size="12.60" stroke="#1f3524" stroke-width="0.3" fill="#1f3524">Oceanic Airlines</text>
<text x="486.16" y="695.60" font-size="12.60" stroke="#1f3524" stroke-width="0.3" fill="#1f3524">$2.6M</text>
<text x="680.90" y="675.80" font-size="12.60" stroke="#1f3524" stroke-width="0.3" fill="#1f3524">Omni Consumer Products</text>
<text x="681.36" y="695.60" font-size="12.60" stroke="#1f3524" stroke-width="0.3" fill="#1f3524">$1.2M</text>
<text x="885.07" y="675.80" font-size="12.60" stroke="#1f3524" stroke-width="0.3" fill="#1f3524">Bliss Belle</text>
<text x="885.96" y="695.60" font-size="12.60" stroke="#1f3524" stroke-width="0.3" fill="#1f3524">$0.8M</text>
<text x="681.48" y="852.30" font-size="12.60" stroke="#1f3524" stroke-width="0.3" fill="#1f3524">Aqarium</text>
<text x="681.36" y="872.10" font-size="12.60" stroke="#1f3524" stroke-width="0.3" fill="#1f3524">$0.4M</text>
<text x="680.93" y="976.40" font-size="12.60" stroke="#1f3524" stroke-width="0.3" fill="#1f3524">Seekingon</text>
<text x="681.36" y="996.20" font-size="12.60" stroke="#1f3524" stroke-width="0.3" fill="#1f3524">$0.4M</text>
<text x="790.52" y="852.30" font-size="12.60" stroke="#1f3524" stroke-width="0.3" fill="#1f3524">TelAmeriCorp</text>
<text x="790.66" y="872.10" font-size="12.60" stroke="#1f3524" stroke-width="0.3" fill="#1f3524">$0.4M</text>
<text x="887.07" y="852.30" font-size="12.60" stroke="#1f3524" stroke-width="0.3" fill="#1f3524">Dolphin</text>
<text x="887.96" y="872.10" font-size="12.60" stroke="#1f3524" stroke-width="0.3" fill="#1f3524">$0.4M</text>
<text x="887.07" y="934.60" font-size="12.60" stroke="#1f3524" stroke-width="0.3" fill="#1f3524">Digimail</text>
<text x="887.96" y="954.40" font-size="12.60" stroke="#1f3524" stroke-width="0.3" fill="#1f3524">$0.4M</text>
<text x="887.53" y="1011.20" font-size="12.60" stroke="#1f3524" stroke-width="0.3" fill="#1f3524">SecuriToday</text>
<text x="887.96" y="1031.00" font-size="12.60" stroke="#1f3524" stroke-width="0.3" fill="#1f3524">$0.4M</text>
</svg>
</body></html>
